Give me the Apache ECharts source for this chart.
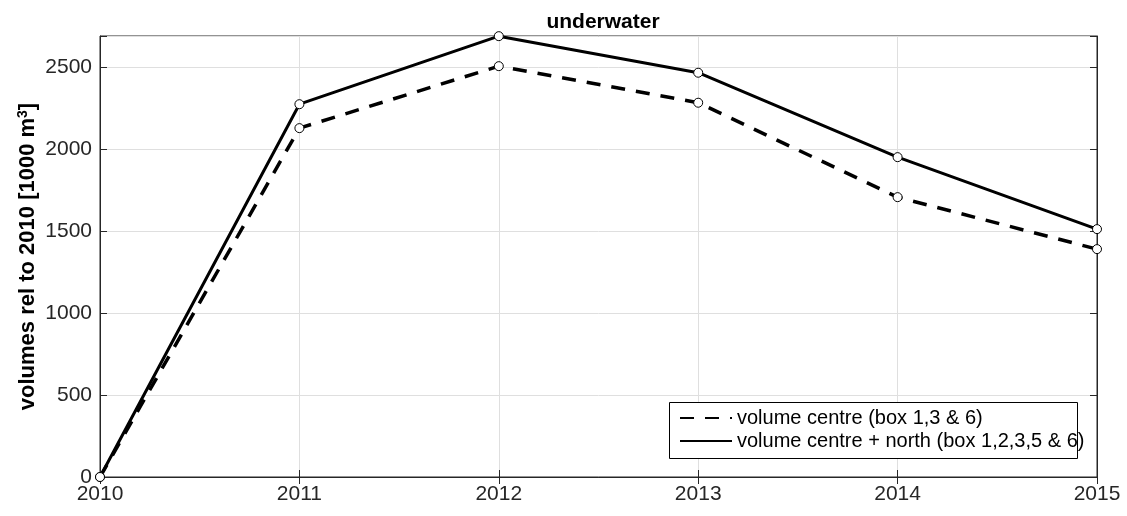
<!DOCTYPE html>
<html>
<head>
<meta charset="utf-8">
<script src="https://cdn.jsdelivr.net/npm/echarts@6/dist/echarts.min.js"></script>
<style>
  html, body { margin: 0; padding: 0; background: #fff; }
  #chart { width: 1127px; height: 516px; }
</style>
</head>
<body>
<div id="chart"></div>
<script>
// data
var years = [2010, 2011, 2012, 2013, 2014, 2015];
var centre = [0, 2128, 2506, 2283, 1707, 1390];
var centreNorth = [0, 2274, 2689, 2466, 1951, 1512];
var seriesNames = ["volume centre (box 1,3 & 6)", "volume centre + north (box 1,2,3,5 & 6)"];

var chart = echarts.init(document.getElementById("chart"));

var textColor = "#262626";
var font = "Liberation Sans, Arial, sans-serif";

function pairs(vals) {
  return vals.map(function (v, i) { return [years[i], v]; });
}

var option = {
  animation: false,
  title: {
    text: "underwater",
    left: 598,
    top: 7,
    textAlign: "center",
    textStyle: { fontSize: 21, fontWeight: "bold", color: "#000", fontFamily: font }
  },
  // legend border is drawn separately, text runs past it as in the original
  graphic: [
    {
      type: "rect",
      shape: { x: 669.5, y: 402.5, width: 408, height: 56 },
      style: { fill: "#fff", stroke: "#000", lineWidth: 1 },
      z: 10
    }
  ],
  legend: {
    orient: "vertical",
    left: 679,
    top: 408,
    itemWidth: 52,
    itemHeight: 14,
    itemGap: 3,
    padding: 0,
    itemStyle: { opacity: 0 },
    textStyle: { fontSize: 20, color: "#000", fontFamily: font },
    z: 20,
    data: seriesNames
  },
  grid: {
    left: 100,
    right: 30,
    top: 36,
    bottom: 39,
    show: true,
    borderColor: "#262626",
    borderWidth: 1
  },
  xAxis: [
    {
      type: "value",
      min: 2010,
      max: 2015,
      interval: 1,
      axisLine: { show: true, lineStyle: { color: "#262626" } },
      axisTick: { show: true, inside: true, length: 7, lineStyle: { color: "#262626" } },
      axisLabel: {
        color: textColor, fontSize: 21, fontFamily: font, margin: 7,
        formatter: function (v) { return String(v); }
      },
      splitLine: { show: true, lineStyle: { color: "#dfdfdf" } }
    },
    {
      type: "value",
      position: "top",
      min: 2010,
      max: 2015,
      interval: 1,
      axisLine: { show: true, lineStyle: { color: "#262626" } },
      axisTick: { show: true, inside: true, length: 7, lineStyle: { color: "#262626" } },
      axisLabel: { show: false },
      splitLine: { show: false }
    }
  ],
  yAxis: [
    {
      type: "value",
      min: 0,
      max: 2690,
      interval: 500,
      name: "{b|volumes rel to 2010 [1000 m}{s|3}{b|]}",
      nameLocation: "middle",
      nameGap: 60,
      nameMoveOverlap: false,
      nameRotate: 90,
      nameTextStyle: {
        rich: {
          b: { fontSize: 22, fontWeight: "bold", color: "#000", fontFamily: font },
          s: { fontSize: 14, fontWeight: "bold", color: "#000", fontFamily: font, verticalAlign: "top", padding: [0, 0, 10, 0] }
        }
      },
      axisLine: { show: true, lineStyle: { color: "#262626" } },
      axisTick: { show: true, inside: true, length: 7, lineStyle: { color: "#262626" } },
      axisLabel: {
        color: textColor, fontSize: 21, fontFamily: font, margin: 8,
        formatter: function (v) { return v % 500 === 0 ? String(v) : ""; }
      },
      splitLine: { show: true, lineStyle: { color: "#dfdfdf" } }
    },
    {
      type: "value",
      position: "right",
      min: 0,
      max: 2690,
      interval: 500,
      axisLine: { show: true, lineStyle: { color: "#262626" } },
      axisTick: { show: true, inside: true, length: 7, lineStyle: { color: "#262626" } },
      axisLabel: { show: false },
      splitLine: { show: false }
    }
  ],
  series: [
    {
      name: seriesNames[0],
      type: "line",
      data: pairs(centre),
      symbol: "circle",
      symbolSize: 9,
      showAllSymbol: true,
      itemStyle: { color: "#fff", borderColor: "#000", borderWidth: 1 },
      lineStyle: { color: "#000", width: 3.5, type: [14, 11] },
      z: 2
    },
    {
      name: seriesNames[1],
      type: "line",
      data: pairs(centreNorth),
      symbol: "circle",
      symbolSize: 9,
      showAllSymbol: true,
      itemStyle: { color: "#fff", borderColor: "#000", borderWidth: 1 },
      lineStyle: { color: "#000", width: 3 },
      z: 3
    }
  ]
};

chart.setOption(option);
</script>
</body>
</html>
